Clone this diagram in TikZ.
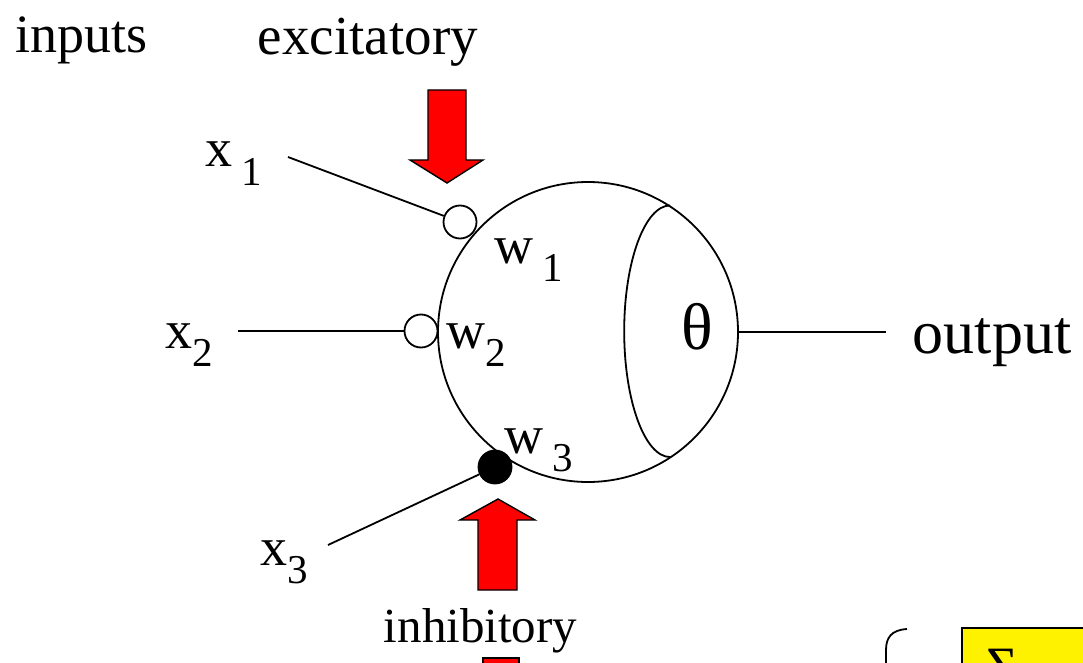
\documentclass[tikz,border=0pt]{standalone}
\usepackage{fontspec}
\setmainfont{Liberation Serif}
\newcommand{\lowsub}[1]{\raisebox{-0.34em}{\fontsize{41}{44}\selectfont #1}}

\begin{document}
\begin{tikzpicture}[x=1pt, y=-1pt, line width=1.8pt,
  lbl/.style={inner sep=0pt, anchor=base west, font=\fontsize{54}{60}\selectfont},
  syn/.style={draw, circle, fill=white, inner sep=0pt, minimum size=33pt},
  redarrow/.style={draw=black, fill=red, line width=1.4pt}]
  \useasboundingbox (0,0) rectangle (1083,663);
  \clip (0,0) rectangle (1083,663);

  % neuron body and threshold part
  \node (soma) [draw, circle, minimum size=300pt, inner sep=0pt] at (588,332) {};
  \draw (soma.57) arc[start angle=270, end angle=90, x radius=46, y radius=125.8];
  \node (theta) [inner sep=0pt, font=\fontsize{66}{70}\selectfont] at (697,327) {θ};

  % synapses
  \node (w1c) [syn] at (460,222) {};
  \node (w2c) [syn] at (421,331) {};
  \node (w3c) [syn, fill=black] at (495,467) {};

  \coordinate (x1e) at (288,157);
  \coordinate (x2e) at (238,331);
  \coordinate (x3e) at (328,545);
  \coordinate (oute) at (886,332);
  \draw (x1e) -- (w1c);
  \draw (x2e) -- (w2c);
  \draw (x3e) -- (w3c);
  \draw (soma) -- (oute);

  % labels
  \node (inputs) [lbl] at (15,53) {inputs};
  \node (exc) [lbl, font=\fontsize{55}{60}\selectfont] at (257,55) {excitatory};
  \node (inh) [lbl, font=\fontsize{49}{56}\selectfont] at (383,642) {inhibitory};
  \node (out) [lbl, font=\fontsize{62}{68}\selectfont] at (912,353) {output};
  \node (x1) [lbl] at (205,167) {x\,\lowsub{1}};
  \node (x2) [lbl] at (165,348) {x\lowsub{2}};
  \node (x3) [lbl] at (260,565) {x\lowsub{3}};
  \node (w1) [lbl] at (494,263) {w\,\lowsub{1}};
  \node (w2) [lbl] at (446,348) {w\lowsub{2}};
  \node (w3) [lbl] at (504,453) {w\,\lowsub{3}};

  % red arrows
  \draw [redarrow] (428,90) -- (466,90) -- (466,160) -- (483,160) -- (447,183)
    -- (410,160) -- (428,160) -- cycle;
  \draw [redarrow] (478,590) -- (517,590) -- (517,520) -- (535,520) -- (498,499)
    -- (460,520) -- (478,520) -- cycle;
  \draw [redarrow] (483,658) rectangle (519,700);

  % summation part (cut off)
  \draw (907,629) .. controls (891,630) and (886,638) .. (886,650) -- (886,700);
  \node (sumbox) [draw, fill=yellow, minimum width=200pt, minimum height=100pt,
    anchor=north west] at (961,627) {};
  \node (sigma) [lbl] at (986,684) {Σ};
\end{tikzpicture}
\end{document}
